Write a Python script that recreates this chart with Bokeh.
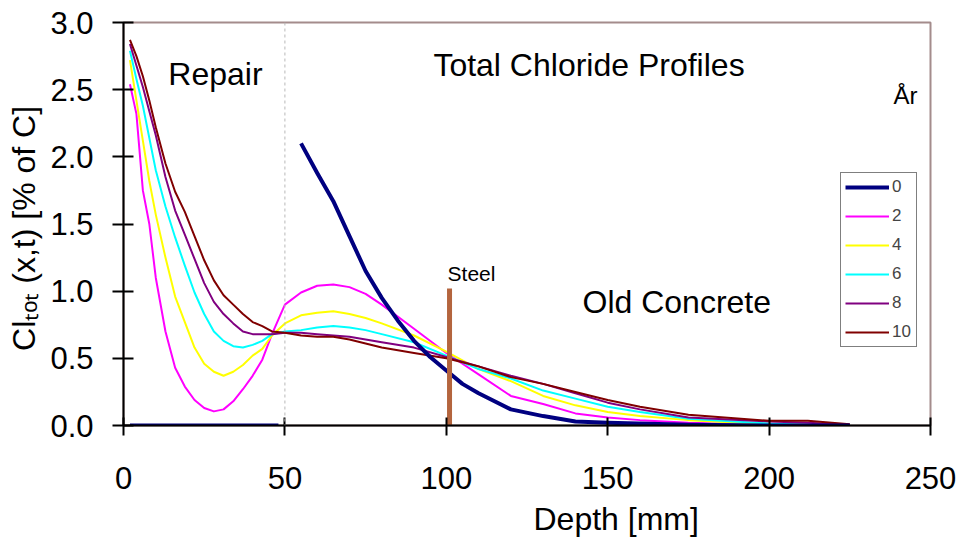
from bokeh.plotting import figure
from bokeh.models import (Range1d, Span, Label, Legend, LegendItem, FixedTicker,
                          NumeralTickFormatter, Title)
from bokeh.embed import file_html
from bokeh.resources import INLINE

# ---------------- data ----------------
depth = [2, 4, 6, 8, 10, 13, 16, 19, 22, 25, 28, 31, 34, 37, 40, 43, 46, 50,
         55, 60, 65, 70, 75, 80, 90, 100, 110, 120, 130, 140, 150, 160, 175,
         200, 212, 225]

year2 = [2.54, 2.32, 1.75, 1.50, 1.10, 0.70, 0.43, 0.29, 0.19, 0.13,
         0.105, 0.12, 0.18, 0.27, 0.37, 0.49, 0.68, 0.90,
         0.99, 1.04, 1.05, 1.03, 0.98, 0.90,
         0.72, 0.54, 0.38, 0.22, 0.16, 0.09, 0.06, 0.04, 0.02, 0.005, 0.0, 0.0]
year4 = [2.72, 2.42, 2.12, 1.82, 1.57, 1.25, 0.96, 0.77, 0.58, 0.46,
         0.40, 0.37, 0.40, 0.45, 0.52, 0.57, 0.67, 0.76,
         0.82, 0.84, 0.85, 0.83, 0.80, 0.76,
         0.67, 0.55, 0.42, 0.33, 0.22, 0.15, 0.10, 0.07, 0.04, 0.01, 0.005, 0.0]
year6 = [2.79, 2.58, 2.38, 2.14, 1.90, 1.63, 1.40, 1.19, 0.99, 0.83,
         0.70, 0.63, 0.59, 0.58, 0.60, 0.63, 0.68, 0.70,
         0.71, 0.73, 0.74, 0.73, 0.71, 0.68,
         0.62, 0.52, 0.42, 0.35, 0.26, 0.20, 0.14, 0.10, 0.05, 0.015, 0.005, 0.0]
year8 = [2.84, 2.68, 2.52, 2.34, 2.16, 1.85, 1.60, 1.42, 1.24, 1.06,
         0.92, 0.83, 0.76, 0.70, 0.68, 0.68, 0.68, 0.69,
         0.69, 0.68, 0.67, 0.66, 0.64, 0.62,
         0.58, 0.51, 0.44, 0.37, 0.31, 0.24, 0.17, 0.12, 0.06, 0.03, 0.02, 0.005]
year10 = [2.87, 2.75, 2.60, 2.42, 2.22, 1.95, 1.74, 1.59, 1.41, 1.23,
          1.08, 0.97, 0.90, 0.83, 0.77, 0.74, 0.70, 0.69,
          0.67, 0.66, 0.66, 0.64, 0.61, 0.58,
          0.54, 0.50, 0.44, 0.36, 0.31, 0.25, 0.19, 0.14, 0.08, 0.035, 0.035, 0.01]

# year 0: repair layer (chloride free) and old concrete (initial profile)
year0_repair_depth = [2, 6, 10, 14, 18, 22, 26, 30, 34, 38, 42, 46, 48]
year0_repair_cl = [0.0] * 13
year0_old_depth = [55, 60, 65, 70, 75, 80, 85, 90, 95, 100, 105, 110, 120,
                   130, 140, 150, 175, 200, 225]
year0_old_cl = [2.10, 1.88, 1.67, 1.41, 1.15, 0.95, 0.78, 0.63, 0.51, 0.41,
                0.31, 0.24, 0.12, 0.07, 0.03, 0.02, 0.005, 0.0, 0.0]

years = ["0", "2", "4", "6", "8", "10"]
colors = ["#000080", "#FF00FF", "#FFFF00", "#00FFFF", "#800080", "#800000"]

steel_depth = [101]
steel_base = [0.0]
steel_top = [1.02]
repair_boundary = 50

x_ticks = [0, 50, 100, 150, 200, 250]
y_ticks = [0.0, 0.5, 1.0, 1.5, 2.0, 2.5, 3.0]

FONT = "Liberation Sans"

# ---------------- figure ----------------
p = figure(width=959, height=543, output_backend="svg", toolbar_location=None,
           x_range=Range1d(0, 250), y_range=Range1d(0, 3.0),
           min_border_left=123, min_border_right=29, min_border_top=22,
           min_border_bottom=118)
p.background_fill_color = "white"
p.border_fill_color = "white"
p.grid.visible = False
p.outline_line_color = "#A48C8C"
p.outline_line_width = 2

for ax in (p.xaxis[0], p.yaxis[0]):
    ax.axis_line_color = "black"
    ax.axis_line_width = 2
    ax.major_tick_line_color = "black"
    ax.major_tick_line_width = 2
    ax.minor_tick_line_color = None
    ax.major_label_text_font = FONT
    ax.major_label_text_font_size = "31px"
    ax.major_label_text_color = "black"

p.xaxis.ticker = FixedTicker(ticks=x_ticks)
p.xaxis.major_tick_in = 8
p.xaxis.major_tick_out = 10
p.xaxis.major_label_standoff = 31
p.yaxis.ticker = FixedTicker(ticks=y_ticks)
p.yaxis.formatter = NumeralTickFormatter(format="0.0")
p.yaxis.major_tick_in = 10
p.yaxis.major_tick_out = 11
p.yaxis.major_label_standoff = 19

# y axis title (Cl with subscript "tot")
p.yaxis.axis_label = "Cl\u209c\u2092\u209c  (x,t) [% of C]"
p.yaxis.axis_label_text_font = FONT
p.yaxis.axis_label_text_font_size = "32px"
p.yaxis.axis_label_text_font_style = "normal"
p.yaxis.axis_label_text_color = "black"
p.yaxis.axis_label_standoff = 5

# x axis title, placed right of centre as in the original
p.add_layout(Title(text="Depth [mm]", align="left", offset=410, standoff=14,
                   text_font=FONT, text_font_size="32px",
                   text_font_style="normal", text_color="black"), "below")

# repair / old concrete boundary
p.add_layout(Span(location=repair_boundary, dimension="height",
                  line_color="#b8b8b8", line_dash="3 3", line_width=1))

# ---------------- curves ----------------
renderers = {}
for name, vals, col in zip(years[1:], [year2, year4, year6, year8, year10], colors[1:]):
    renderers[name] = p.line(depth, vals, line_color=col, line_width=2,
                             line_join="round")

y0x = year0_repair_depth + [float("nan")] + year0_old_depth
y0y = year0_repair_cl + [float("nan")] + year0_old_cl
renderers["0"] = p.line(y0x, y0y, line_color=colors[0], line_width=4,
                        line_join="round")

# steel bar
p.segment(x0=steel_depth, y0=steel_base, x1=steel_depth, y1=steel_top,
          line_color="#B4653E", line_width=5)

# ---------------- texts ----------------
def lab(x, y, t, size):
    p.add_layout(Label(x=x, y=y, text=t, text_font=FONT, text_font_size=size,
                       text_color="black", text_baseline="alphabetic"))

lab(13.9, 2.62, "Repair", "32px")
lab(96.0, 2.68, "Total Chloride Profiles", "32px")
lab(142.2, 0.916, "Old Concrete", "32px")
lab(100.4, 1.13, "Steel", "21px")
lab(238.5, 2.457, "År", "24px")

# ---------------- legend ----------------
legend = Legend(items=[LegendItem(label=y, renderers=[renderers[y]]) for y in years],
                location=(717, 78), glyph_width=44, glyph_height=20,
                label_height=20, label_width=20, spacing=9, padding=4,
                label_standoff=3, margin=0,
                border_line_color="black", border_line_width=1.5,
                label_text_font=FONT, label_text_font_size="17px",
                background_fill_color="white", background_fill_alpha=1)
p.add_layout(legend)

open("out.html", "w").write(file_html(p, INLINE))
